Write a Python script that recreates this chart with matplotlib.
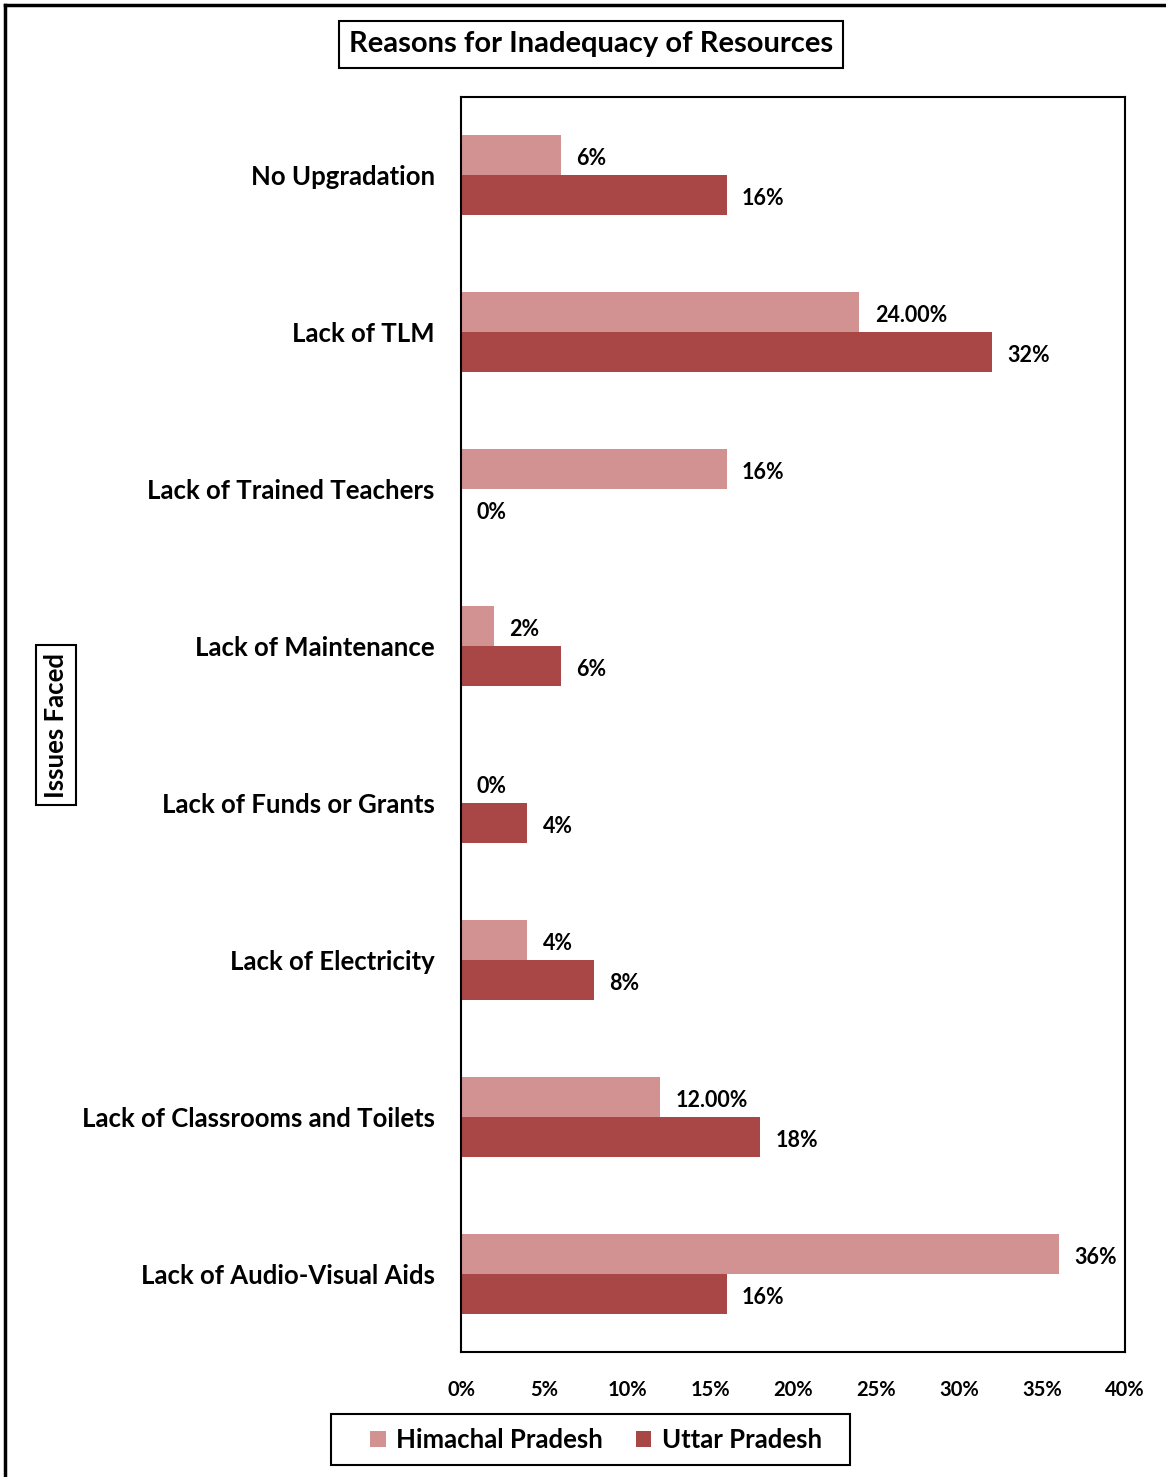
import matplotlib.pyplot as plt
from matplotlib.lines import Line2D
from matplotlib.patches import Rectangle
import numpy as np

plt.rcParams['font.family'] = ['Lato', 'DejaVu Sans']
plt.rcParams['font.weight'] = 'bold'

categories = ['No Upgradation', 'Lack of TLM', 'Lack of Trained Teachers',
              'Lack of Maintenance', 'Lack of Funds or Grants',
              'Lack of Electricity', 'Lack of Classrooms and Toilets',
              'Lack of Audio-Visual Aids']
himachal = [6, 24, 16, 2, 0, 4, 12, 36]
uttar = [16, 32, 0, 6, 4, 8, 18, 16]
himachal_labels = ['6%', '24.00%', '16%', '2%', '0%', '4%', '12.00%', '36%']
uttar_labels = ['16%', '32%', '0%', '6%', '4%', '8%', '18%', '16%']
xticks = [0, 5, 10, 15, 20, 25, 30, 35, 40]

hp_color = '#D39292'
up_color = '#A94746'

W, H = 1166, 1477
fig = plt.figure(figsize=(W / 100, H / 100), dpi=100)
ax = fig.add_axes([0.3954, 0.0846, 0.5695, 0.8497])

y = np.arange(len(categories))
h = 0.255
hp_bars = ax.barh(y - h / 2, himachal, height=h, color=hp_color, label='Himachal Pradesh')
up_bars = ax.barh(y + h / 2, uttar, height=h, color=up_color, label='Uttar Pradesh')

for bars, texts in ((hp_bars, himachal_labels), (up_bars, uttar_labels)):
    for bar, txt in zip(bars, texts):
        ax.annotate(txt, (bar.get_width(), bar.get_y() + bar.get_height() / 2),
                    xytext=(11, -2.5), textcoords='offset points', va='center',
                    ha='left', fontsize=15.5, fontweight='bold')

ax.set_xlim(0, 40)
ax.set_ylim(len(categories) - 0.5, -0.5)
ax.set_xticks(xticks)
ax.set_xticklabels([f'{t}%' for t in xticks], fontsize=14.5, fontweight='bold')
ax.set_yticks(y)
ax.set_yticklabels(categories, fontsize=18.5, fontweight='bold')
ax.tick_params(axis='x', length=0, pad=20)
ax.tick_params(axis='y', length=0, pad=19)
for s in ax.spines.values():
    s.set_linewidth(1.5)

fig.text(0.507, 0.970, 'Reasons for Inadequacy of Resources', ha='center',
         va='center', fontsize=21, fontweight='bold',
         bbox=dict(boxstyle='square,pad=0.35', fc='white', ec='black', lw=1.5))

fig.text(0.048, 0.509, 'Issues Faced', rotation=90, ha='center', va='center',
         fontsize=18.5, fontweight='bold',
         bbox=dict(boxstyle='square,pad=0.3', fc='white', ec='black', lw=1.5))

fig.legend(handles=[hp_bars, up_bars], loc='center', ncol=2,
           bbox_to_anchor=(596 / W, 1 - 1440 / H), frameon=False,
           prop={'size': 18.5, 'weight': 'bold'},
           handlelength=0.6, handleheight=0.6, handletextpad=0.4,
           columnspacing=1.3, borderpad=0, borderaxespad=0)
# legend box
fig.add_artist(Rectangle((331 / W, 1 - 1465 / H), 519 / W, 51 / H, fill=False,
                         ec='black', lw=1.5, transform=fig.transFigure))

# outer frame along top and left edges
fig.add_artist(Line2D([5 / W, 5 / W], [0, 1 - 5 / H], color='black',
                      lw=2.5, transform=fig.transFigure))
fig.add_artist(Line2D([5 / W, 1], [1 - 5 / H, 1 - 5 / H], color='black',
                      lw=2.5, transform=fig.transFigure))

fig.savefig('out.png', dpi=100)
